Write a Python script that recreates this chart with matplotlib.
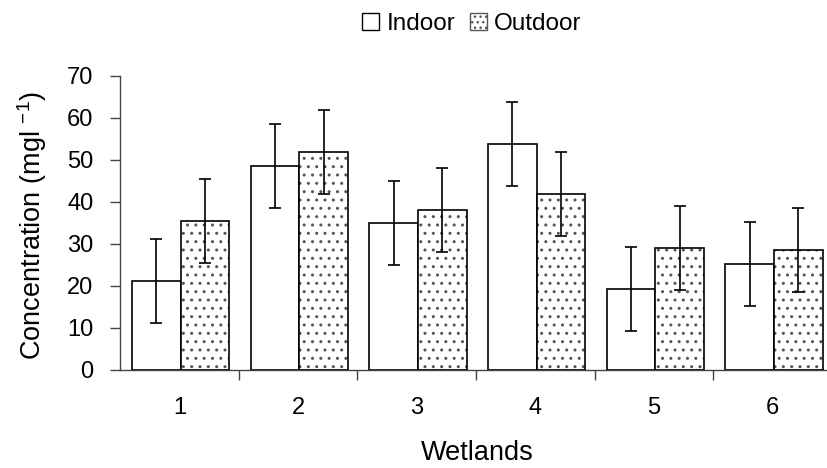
import matplotlib
matplotlib.use("Agg")
import matplotlib.pyplot as plt
from matplotlib.patches import Patch
import numpy as np

plt.rcParams['font.family'] = ['Liberation Sans', 'DejaVu Sans']
plt.rcParams['mathtext.fontset'] = 'custom'
plt.rcParams['mathtext.rm'] = 'Liberation Sans'

wetlands = ['1', '2', '3', '4', '5', '6']
indoor = [21.2, 48.5, 35.0, 53.7, 19.2, 25.3]
outdoor = [35.5, 52.0, 38.0, 42.0, 29.0, 28.5]
indoor_err = [10, 10, 10, 10, 10, 10]
outdoor_err = [10, 10, 10, 10, 10, 10]

fig = plt.figure(figsize=(8.27, 4.68), dpi=100)
ax = fig.add_axes([120/827, 98/468, 712/827, 294/468])

x = np.arange(1, len(wetlands) + 1)
w = 0.41
xi = x - 0.195
xo = x + 0.215

ax.bar(xi, indoor, width=w, color='white', edgecolor='black', linewidth=1.2, zorder=2)
ax.bar(xo, outdoor, width=w, color='white', edgecolor='#555555', hatch='..', linewidth=0, zorder=2)
ax.bar(xo, outdoor, width=w, color='none', edgecolor='black', linewidth=1.2, zorder=3)

ax.errorbar(xi, indoor, yerr=indoor_err, fmt='none', ecolor='black', elinewidth=1.2, capsize=4.3, capthick=1.2, zorder=4)
ax.errorbar(xo, outdoor, yerr=outdoor_err, fmt='none', ecolor='black', elinewidth=1.2, capsize=4.3, capthick=1.2, zorder=4)

ax.set_xlim(0.5, 6.5)
ax.set_ylim(0, 70)
ax.set_yticks(range(0, 71, 10))
ax.set_xticks(x)
ax.set_xticklabels(wetlands)
ax.set_xticks(np.arange(1.5, 6.5, 1), minor=True)
ax.tick_params(axis='x', which='major', length=0, pad=19.5, labelsize=17)
ax.tick_params(axis='x', which='minor', length=7, width=1, color='#444444')
ax.tick_params(axis='y', length=7, width=1, color='#444444', labelsize=17, pad=12)

for s in ['top', 'right']:
    ax.spines[s].set_visible(False)
for s in ['left', 'bottom']:
    ax.spines[s].set_color('#444444')
    ax.spines[s].set_linewidth(1)

ax.set_xlabel('Wetlands', fontsize=19.5, va='center')
ax.xaxis.set_label_coords((477 - 120) / 712, -(453 - 370) / 294)
ax.set_ylabel('Concentration (mgl $^{\\mathregular{-1}}$)', fontsize=19.5, va='center')
ax.yaxis.set_label_coords((32 - 120) / 712, (370 - 226) / 294)

handles = [Patch(facecolor='white', edgecolor='black', linewidth=1),
           Patch(facecolor='white', edgecolor='#555555', hatch='...', linewidth=1)]
fig.legend(handles, ['Indoor', 'Outdoor'], loc='center', bbox_to_anchor=(472/827, 1 - 24/468),
           ncol=2, frameon=False, fontsize=17.5, handlelength=0.7, handleheight=0.7,
           handletextpad=0.3, columnspacing=0.6)

fig.savefig('out.png', dpi=100)
